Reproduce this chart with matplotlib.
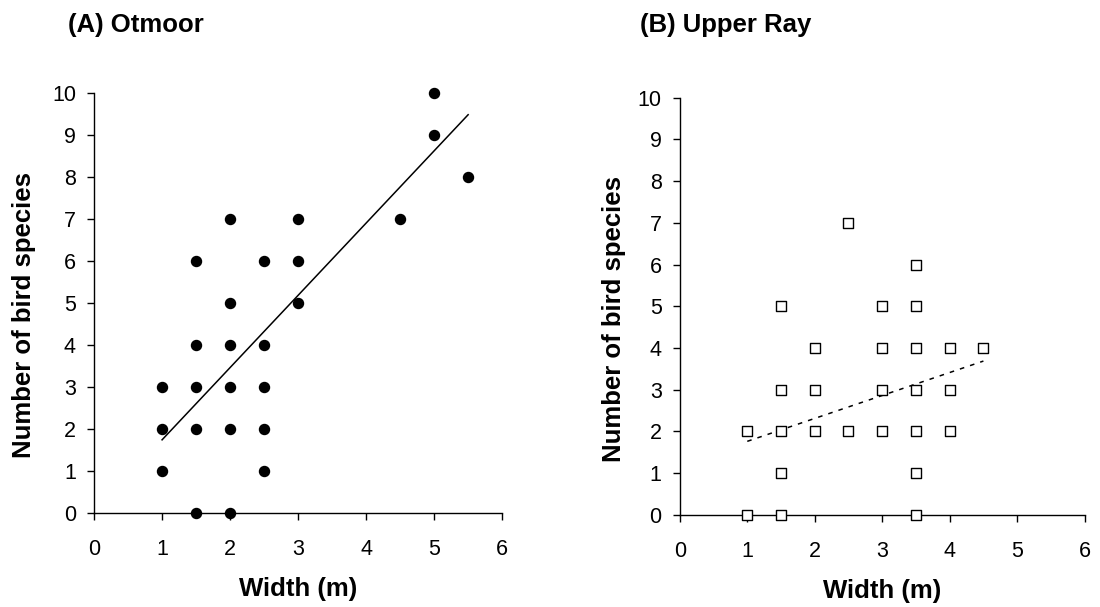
import numpy as np
import matplotlib
matplotlib.use('Agg')
import matplotlib.pyplot as plt

plt.rcParams['font.family'] = ['Liberation Sans', 'DejaVu Sans']

# (A) Otmoor
otmoor_width = [1, 1, 1, 1.5, 1.5, 1.5, 1.5, 1.5, 2, 2, 2, 2, 2, 2,
                2.5, 2.5, 2.5, 2.5, 2.5, 3, 3, 3, 4.5, 5, 5, 5.5]
otmoor_species = [3, 2, 1, 6, 4, 3, 2, 0, 7, 5, 4, 3, 2, 0,
                  6, 4, 3, 2, 1, 7, 6, 5, 7, 10, 9, 8]
otmoor_fit = (1.72, 0.02)        # slope, intercept
otmoor_fit_range = (1, 5.5)

# (B) Upper Ray
ray_width = [1, 1, 1.5, 1.5, 1.5, 1.5, 1.5, 2, 2, 2, 2.5, 2.5,
             3, 3, 3, 3, 3.5, 3.5, 3.5, 3.5, 3.5, 3.5, 3.5, 4, 4, 4, 4.5]
ray_species = [2, 0, 5, 3, 2, 1, 0, 4, 3, 2, 7, 2,
               5, 4, 3, 2, 6, 5, 4, 3, 2, 1, 0, 4, 3, 2, 4]
ray_fit = (0.55, 1.21)
ray_fit_range = (1, 4.5)

x_ticks = [0, 1, 2, 3, 4, 5, 6]
y_ticks = list(range(0, 11))

fig = plt.figure(figsize=(11, 6.07), dpi=100)
ax1 = fig.add_axes([0.0855, 0.155, 0.371, 0.692])
ax2 = fig.add_axes([0.618, 0.152, 0.368, 0.687])


def style_axis(ax, title, title_x, ylab_x):
    ax.set_xlim(0, 6)
    ax.set_ylim(0, 10)
    ax.set_xticks(x_ticks)
    ax.set_yticks(y_ticks)
    for s in ['top', 'right']:
        ax.spines[s].set_visible(False)
    for s in ['left', 'bottom']:
        ax.spines[s].set_linewidth(1.0)
    ax.tick_params(direction='out', length=5, width=1.0, labelsize=15.5)
    ax.tick_params(axis='x', pad=14)
    ax.tick_params(axis='y', pad=8)
    ax.set_xlabel('Width (m)', fontsize=18.5, fontweight='bold', labelpad=12)
    ax.set_ylabel('Number of bird species', fontsize=18.5, fontweight='bold')
    ax.yaxis.set_label_coords(ylab_x, 0.47)
    fig.text(title_x, 0.958, title, fontsize=18.5, fontweight='bold', va='center', ha='left')


ax1.scatter(otmoor_width, otmoor_species, s=52, color='black', zorder=3, clip_on=False)
fx = np.array(otmoor_fit_range)
ax1.plot(fx, otmoor_fit[0] * fx + otmoor_fit[1], color='black', lw=1.1)
style_axis(ax1, '(A) Otmoor', 0.0615, -0.142)

ax2.scatter(ray_width, ray_species, s=52, marker='s', facecolor='white',
            edgecolor='black', linewidth=1.0, zorder=3, clip_on=False)
fx = np.array(ray_fit_range)
ax2.plot(fx, ray_fit[0] * fx + ray_fit[1], color='black', lw=1.1, ls=(0, (3, 4)))
style_axis(ax2, '(B) Upper Ray', 0.582, -0.133)

fig.savefig('out.png', dpi=100)
